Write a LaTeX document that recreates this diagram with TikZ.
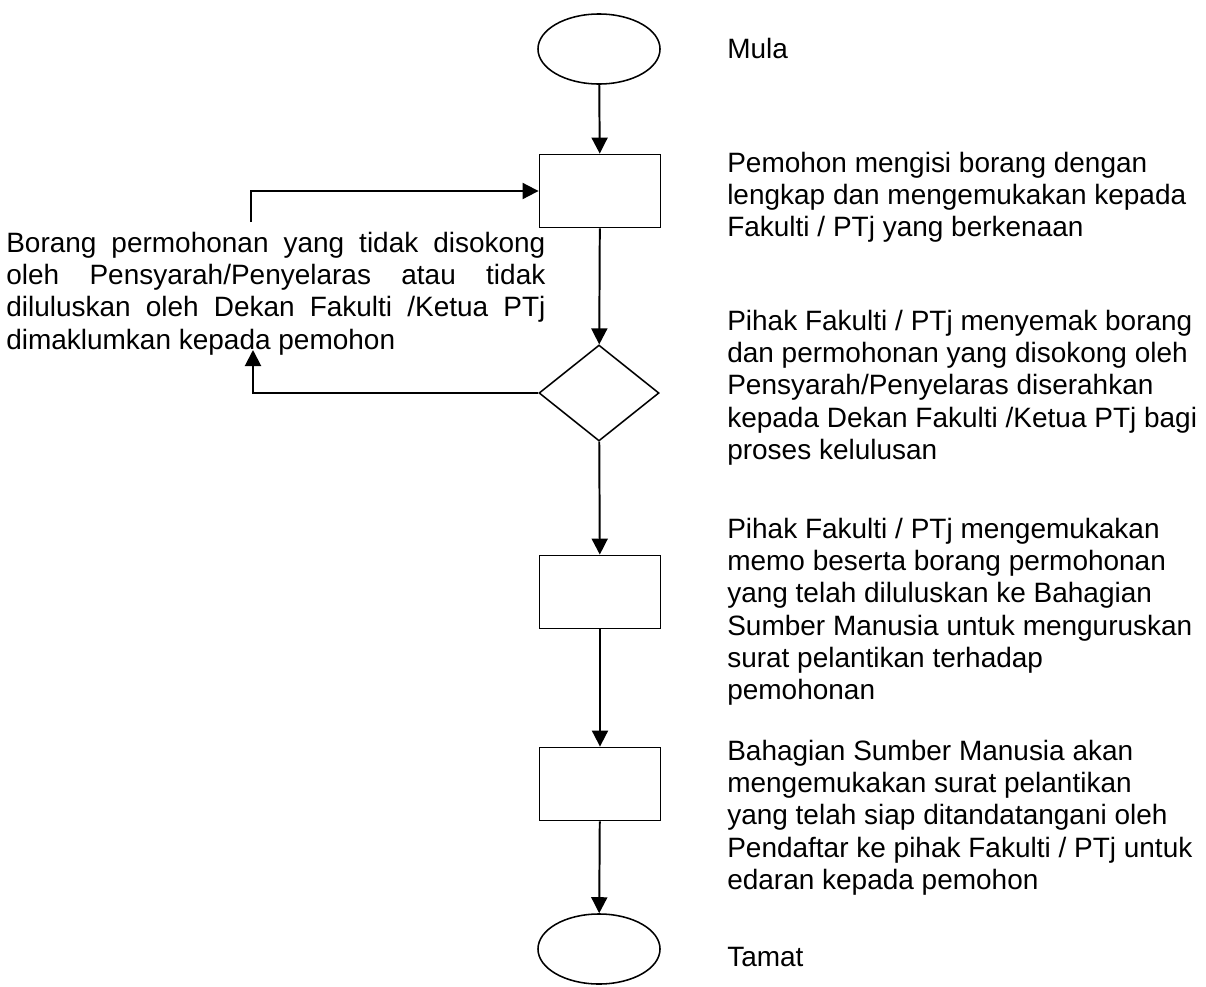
\documentclass[tikz,border=0pt]{standalone}
\usepackage{fontspec}
\setmainfont{Liberation Sans}
\usetikzlibrary{arrows.meta, shapes.geometric}

\begin{document}
\begin{tikzpicture}[x=0.025cm, y=-0.025cm, >={Triangle[length=4mm, width=4mm]},
  every node/.style={font=\fontsize{19.9}{22.9}\selectfont}]
\tikzstyle{terminal}=[draw, ellipse, line width=1.1pt, minimum width=3.05cm, minimum height=1.75cm, inner sep=0]
\tikzstyle{process}=[draw, rectangle, line width=1.3pt, minimum width=3.025cm, minimum height=1.825cm, inner sep=0]
\tikzstyle{decision}=[draw, diamond, line width=1.1pt, minimum width=3cm, minimum height=2.4cm, inner sep=0]
\tikzstyle{desc}=[anchor=north west, inner sep=0, align=left]
\tikzstyle{flow}=[->, line width=1.4pt]

\useasboundingbox (0,0) rectangle (1206,987);

% flow chart
\node[terminal] (mula) at (599,49) {};
\node[process] (isi) at (600,191) {};
\node[decision] (semak) at (599,393) {};
\node[process] (memo) at (600,592) {};
\node[process] (edar) at (600,784) {};
\node[terminal] (tamat) at (599,949) {};

\draw[flow] (mula) -- (isi);
\draw[flow] (isi) -- (semak);
\draw[flow] (semak) -- (memo);
\draw[flow] (memo) -- (edar);
\draw[flow] (edar) -- (tamat);

% loop back
\coordinate (naik) at (253,350);
\coordinate (turun) at (251,222);
\draw[flow] (semak.west) -| (naik);
\draw[flow] (turun) |- (isi.west);

% descriptions
\node[desc] (tmula) at (727,38) {Mula};
\node[desc] (tisi) at (727,152) {Pemohon mengisi borang dengan\\
  lengkap dan mengemukakan kepada\\
  Fakulti / PTj yang berkenaan};
\node[desc] (tsemak) at (727,310) {Pihak Fakulti / PTj menyemak borang\\
  dan permohonan yang disokong oleh\\
  Pensyarah/Penyelaras diserahkan\\
  kepada Dekan Fakulti /Ketua PTj bagi\\
  proses kelulusan};
\node[desc] (tmemo) at (727,518) {Pihak Fakulti / PTj mengemukakan\\
  memo beserta borang permohonan\\
  yang telah diluluskan ke Bahagian\\
  Sumber Manusia untuk menguruskan\\
  surat pelantikan terhadap\\
  pemohonan};
\node[desc] (tedar) at (727,740) {Bahagian Sumber Manusia akan\\
  mengemukakan surat pelantikan\\
  yang telah siap ditandatangani oleh\\
  Pendaftar ke pihak Fakulti / PTj untuk\\
  edaran kepada pemohon};
\node[desc] (ttamat) at (727,947) {Tamat};

\node[anchor=north west, inner sep=0, text width=13.475cm, align=justify] (tolak) at (6,232)
  {Borang permohonan yang tidak disokong\linebreak
   oleh Pensyarah/Penyelaras atau tidak\linebreak
   diluluskan oleh Dekan Fakulti /Ketua PTj\linebreak
   dimaklumkan kepada pemohon};
\end{tikzpicture}
\end{document}
